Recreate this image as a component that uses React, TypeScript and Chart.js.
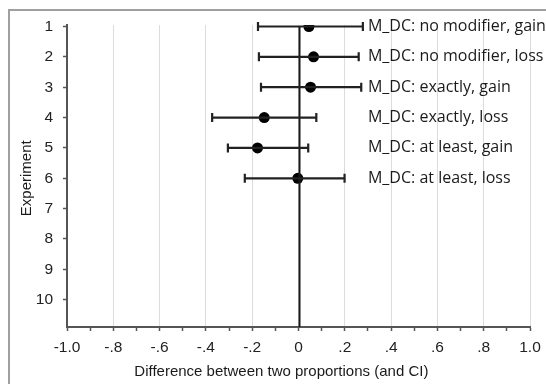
import React, { useEffect, useRef } from "react";
import { Chart, registerables } from "chart.js";

Chart.register(...registerables);

const experiments = [1, 2, 3, 4, 5, 6, 7, 8, 9, 10];
const rows = [1, 2, 3, 4, 5, 6];
const estimates = [0.045, 0.065, 0.052, -0.148, -0.177, -0.003];
const lowerCI = [-0.175, -0.171, -0.162, -0.373, -0.305, -0.232];
const upperCI = [0.278, 0.26, 0.271, 0.077, 0.042, 0.199];
const rowLabels = [
  "M_DC: no modifier, gain",
  "M_DC: no modifier, loss",
  "M_DC: exactly, gain",
  "M_DC: exactly, loss",
  "M_DC: at least, gain",
  "M_DC: at least, loss",
];
const xTickValues = [-1, -0.8, -0.6, -0.4, -0.2, 0, 0.2, 0.4, 0.6, 0.8, 1];
const xTickLabels = ["-1.0", "-.8", "-.6", "-.4", "-.2", "0", ".2", ".4", ".6", ".8", "1.0"];
const xMinorTicks = [-0.9, -0.7, -0.5, -0.3, -0.1, 0.1, 0.3, 0.5, 0.7, 0.9];
const xTitle = "Difference between two proportions (and CI)";
const yTitle = "Experiment";

const AXIS_FONT = "'Liberation Sans', Arial, sans-serif";

const overlayPlugin = {
  id: "overlay",
  beforeDraw(chart: any) {
    const ctx = chart.ctx;
    ctx.save();
    ctx.fillStyle = "#ffffff";
    ctx.fillRect(0, 0, chart.width, chart.height);
    ctx.strokeStyle = "#a0a0a0";
    ctx.lineWidth = 2;
    ctx.strokeRect(9, 10, chart.width + 20, chart.height + 20);
    ctx.restore();
  },
  afterDatasetsDraw(chart: any) {
    const ctx = chart.ctx;
    const xs = chart.scales.x;
    const ys = chart.scales.y;
    ctx.save();
    // zero line
    const x0 = Math.round(xs.getPixelForValue(0)) + 0.5;
    ctx.strokeStyle = "#1a1a1a";
    ctx.lineWidth = 2;
    ctx.beginPath();
    ctx.moveTo(x0, ys.getPixelForValue(1));
    ctx.lineTo(x0, chart.chartArea.bottom);
    ctx.stroke();
    // error bars
    ctx.strokeStyle = "#222222";
    ctx.lineWidth = 2.2;
    rows.forEach((r, i) => {
      const y = ys.getPixelForValue(r);
      const xl = xs.getPixelForValue(lowerCI[i]);
      const xh = xs.getPixelForValue(upperCI[i]);
      ctx.beginPath();
      ctx.moveTo(xl, y);
      ctx.lineTo(xh, y);
      ctx.moveTo(xl, y - 4.5);
      ctx.lineTo(xl, y + 4.5);
      ctx.moveTo(xh, y - 4.5);
      ctx.lineTo(xh, y + 4.5);
      ctx.stroke();
    });
    // row labels
    ctx.fillStyle = "#1a1a1a";
    ctx.font = "16px 'Open Sans', sans-serif";
    ctx.textAlign = "left";
    ctx.textBaseline = "middle";
    rows.forEach((r, i) => {
      const y = ys.getPixelForValue(r);
      const x = xs.getPixelForValue(0.3);
      ctx.fillText(rowLabels[i], x, y);
    });
    // axis titles
    ctx.fillStyle = "#1a1a1a";
    ctx.font = "15px " + AXIS_FONT;
    ctx.textAlign = "center";
    ctx.fillText(xTitle, xs.getPixelForValue(-0.074), 372);
    ctx.translate(27, ys.getPixelForValue(6));
    ctx.rotate(-Math.PI / 2);
    ctx.fillText(yTitle, 0, 0);
    ctx.restore();
  },
};

export default function App() {
  const ref = useRef<HTMLCanvasElement | null>(null);
  useEffect(() => {
    if (!ref.current) return;
    const allX = [...xTickValues, ...xMinorTicks].sort((a, b) => a - b);
    const chart = new Chart(ref.current, {
      type: "scatter",
      data: {
        datasets: [
          {
            data: rows.map((r, i) => ({ x: estimates[i], y: r })),
            pointRadius: 5.5,
            pointBackgroundColor: "#000000",
            pointBorderColor: "#000000",
            pointBorderWidth: 0,
            showLine: false,
            order: 0,
          },
        ],
      },
      options: {
        animation: false,
        responsive: false,
        maintainAspectRatio: false,
        layout: { padding: { left: 0, right: 16, top: 25, bottom: 0 } },
        plugins: { legend: { display: false }, tooltip: { enabled: false }, title: { display: false } },
        scales: {
          x: {
            type: "linear",
            min: -1,
            max: 1,
            afterBuildTicks: (s: any) => {
              s.ticks = allX.map((v) => ({ value: v }));
            },
            afterFit: (s: any) => {
              s.height = 57;
              s.paddingLeft = 0;
              s.paddingRight = 0;
            },
            ticks: {
              autoSkip: false,
              maxRotation: 0,
              padding: 7,
              color: "#222222",
              font: { family: AXIS_FONT, size: 15.5 },
              callback: (v: any) => {
                const idx = xTickValues.findIndex((t) => Math.abs(t - v) < 1e-6);
                return idx >= 0 ? xTickLabels[idx] : "";
              },
            },
            grid: {
              drawOnChartArea: true,
              drawTicks: true,
              tickLength: 4,
              lineWidth: 1,
              color: (c: any) => {
                const v = c.tick ? c.tick.value : 0;
                const major = xTickValues.some((t) => Math.abs(t - v) < 1e-6);
                if (!major || Math.abs(v + 1) < 1e-6) return "rgba(0,0,0,0)";
                return "#dcdcdc";
              },
              tickColor: "#555555",
              tickWidth: 1.5,
            },
            border: { display: true, color: "#555555", width: 2 },
          },
          y: {
            type: "linear",
            reverse: true,
            min: 0.95,
            max: 10.9,
            afterBuildTicks: (s: any) => {
              s.ticks = experiments.map((v) => ({ value: v }));
            },
            afterFit: (s: any) => {
              s.width = 67;
              s.paddingTop = 0;
              s.paddingBottom = 0;
            },
            ticks: {
              autoSkip: false,
              padding: 10,
              color: "#222222",
              font: { family: AXIS_FONT, size: 15.5 },
              callback: (v: any) => String(v),
            },
            grid: {
              drawOnChartArea: false,
              drawTicks: true,
              tickLength: 4,
              tickColor: "#555555",
              tickWidth: 1.5,
            },
            border: { display: true, color: "#555555", width: 2 },
          },
        },
      },
      plugins: [overlayPlugin],
    } as any);
    return () => chart.destroy();
  }, []);
  return (
    <div style={{ position: "absolute", left: 0, top: 0, width: 546, height: 384 }}>
      <canvas ref={ref} width={546} height={384} style={{ width: 546, height: 384, display: "block" }} />
    </div>
  );
}
